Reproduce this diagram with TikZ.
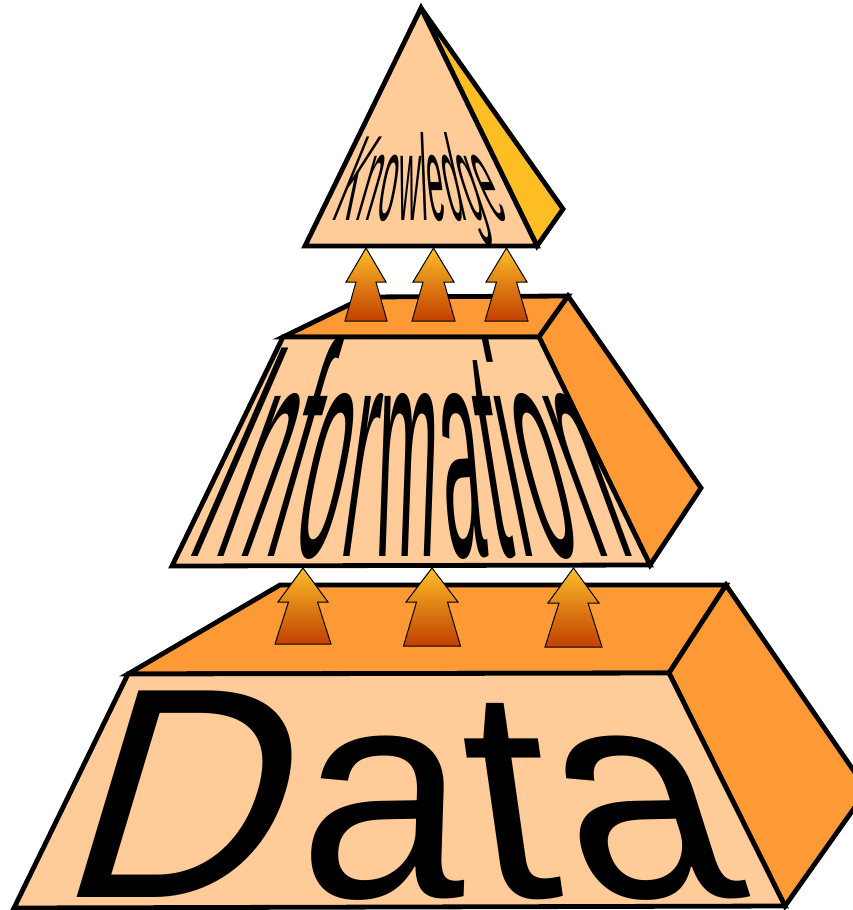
\documentclass[tikz,border=0pt]{standalone}
\usepackage{fontspec}
\setmainfont{Liberation Sans}
\definecolor{peach}{HTML}{FFCC99}
\definecolor{boxorange}{HTML}{FD9A35}
\definecolor{gold}{HTML}{FDBE24}
\definecolor{arrtop}{HTML}{FBBE2A}
\definecolor{arrbot}{HTML}{C24000}
\tikzset{
  face/.style={draw=black, line width=4.8pt, line join=miter},
  frontface/.style={face, fill=peach},
  sideface/.style={face, fill=boxorange},
  kside/.style={face, fill=gold},
  arrowstyle/.style={draw=black, line width=1pt, top color=arrtop, bottom color=arrbot},
  letter/.style={inner sep=0pt, outer sep=0pt, anchor=base, font=\fontsize{10}{12}\selectfont}
}
\newcommand\blockarrow[7]{%
  \shade[arrowstyle] (#1,#2) -- ({#1+#5},#3) -- ({#1+#6},#3) -- ({#1+#7},#4)
    -- ({#1-#7},#4) -- ({#1-#6},#3) -- ({#1-#5},#3) -- cycle;}
% #1 name, #2 list letter/center(em), #3 start x, #4 em size px, #5 S left, #6 S right,
% #7 L mid, #8 W mid, #9 height; baseline given by \wbase
\newcommand\wbase{0}
\newcommand\warpword[9]{%
  \pgfmathsetmacro\wxs{#4/10}%
  \pgfmathsetmacro\wys{#9/7.16}%
  \foreach \ch/\c [count=\i] in {#2}{%
    \pgfmathsetmacro\xm{#3+\c*#4}%
    \pgfmathsetmacro\S{#5+(#6-#5)*(\xm-#7)/#8}%
    \node[letter, xslant=\S, xscale=\wxs, yscale=\wys] (#1\i) at ({\xm-\S*#9/2},\wbase) {\ch};
  }%
}
\begin{document}
\begin{tikzpicture}[x=1pt,y=-1pt]
\clip (0,0) rectangle (853,910);
\fill[white] (0,0) rectangle (853,910);
% Data box
\draw[sideface] (128,674) -- (280,585) -- (726,585) -- (669,673) -- cycle;
\draw[sideface] (669,673) -- (726,585) -- (867,790) -- (785,906) -- cycle;
\draw[frontface] (128,674) -- (669,673) -- (785,906) -- (14,908) -- cycle;
\renewcommand\wbase{897}
\warpword{data}{D/0.361, a/1.0, t/1.417, a/1.834}{84.3}{299.5}{0.417}{-0.42}{108}{600}{215}
% Information box
\draw[sideface] (283,337) -- (365,297) -- (568,296) -- (539,337) -- cycle;
\draw[sideface] (539,337) -- (568,296) -- (701,488) -- (650,565) -- cycle;
\draw[frontface] (283,337) -- (539,337) -- (650,565) -- (172,566) -- cycle;
\renewcommand\wbase{556}
\warpword{info}{I/0.139, n/0.556, f/0.973, o/1.390, r/1.8345, m/2.4175, a/3.112, t/3.529, i/3.779, o/4.168, n/4.724}{231.6}{73.1}{0.443}{-0.406}{238.5}{354}{217}
% Knowledge pyramid
\draw[kside] (421,8) -- (563,209) -- (537,246) -- cycle;
\draw[frontface] (421,8) -- (537,246) -- (305,246) -- cycle;
\renewcommand\wbase{220}
\warpword{know}{K/0.3335, n/0.945, o/1.501, w/2.140, l/2.612, e/3.001, d/3.557, g/4.113, e/4.669}{347.9}{28.96}{0.46}{-0.49}{350}{140}{87}
% arrows information -> knowledge
\blockarrow{366}{248}{282}{321}{20}{10}{21}
\blockarrow{433.5}{248}{282}{321}{20.5}{10.5}{21.5}
\blockarrow{506.5}{248}{282}{321}{20.5}{10}{21.5}
% arrows data -> information
\blockarrow{303}{568}{602}{644}{25}{14.5}{28}
\blockarrow{432}{568}{602}{646}{26}{15.5}{28.5}
\blockarrow{573.5}{568}{603}{647}{25.5}{14.5}{28.5}
\end{tikzpicture}
\end{document}
